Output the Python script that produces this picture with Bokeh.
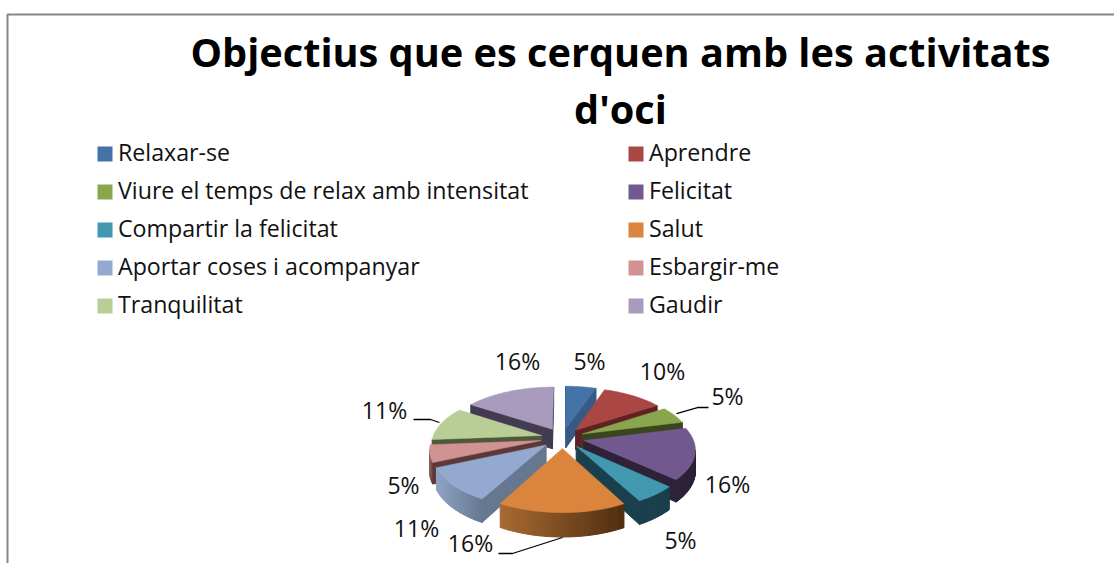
import math
from bokeh.plotting import figure
from bokeh.embed import file_html
from bokeh.resources import INLINE
from bokeh.core.properties import value

title_lines = ["Objectius que es cerquen amb les activitats", "d'oci"]
categories = ["Relaxar-se", "Aprendre", "Viure el temps de relax amb intensitat", "Felicitat",
              "Compartir la felicitat", "Salut", "Aportar coses i acompanyar", "Esbargir-me",
              "Tranquilitat", "Gaudir"]
# printed data labels
percent = [5, 10, 5, 16, 5, 16, 11, 5, 11, 16]
# slice shares
share = [5.3, 10.5, 5.3, 15.8, 5.3, 15.8, 10.5, 5.3, 10.5, 15.8]

face = ["#4572A7", "#AA4643", "#89A54E", "#71588F", "#4198AF", "#DB843D", "#93A9CF", "#D19392", "#B9CD96", "#A99BBD"]
side = ["#355A85", "#5E2222", "#3A4520", "#2D2238", "#1A3F4D", "#5A3412", "#66788F", "#5C3838", "#4F583A", "#433C50"]
rim_a = ["#5E82AE", "#6E2A2A", "#3A4520", "#2D2238", "#1A3F4D", "#A86A32", "#8FA3C3", "#8A6060", "#4F583A", "#433C50"]
rim_b = ["#355A85", "#5E2222", "#3A4520", "#2D2238", "#1A3F4D", "#4F2E10", "#66788F", "#5C3838", "#4F583A", "#433C50"]
label_xy = [(589, 360.5), (662, 370.5), (727, 395.5), (727, 483.5), (680, 539.5), (470, 542.5), (416, 527.5), (403, 484.5), (384, 409.5), (517, 360.5)]
leaders = [([676, 697, 708], [413, 407, 407]), ([413, 430, 439], [419, 419, 422]), ([562, 512, 498], [537, 553, 553])]

FONT = value("Open Sans")
CX, CY, RX, RY, K, E, DEPTH = 562, 437.5, 109, 51, 0.15, 0.2, 20

p = figure(width=1114, height=563, x_range=(0, 1114), y_range=(563, 0),
           toolbar_location=None, output_backend="svg", min_border=0)
p.axis.visible = False
p.grid.visible = False
p.outline_line_color = None
p.background_fill_color = "white"

# chart frame
p.line([7, 7, 1114], [563, 14, 14], line_color="#868686", line_width=2)

# title
for i, t in enumerate(title_lines):
    p.text([620], [51 + 57 * i], text=[t], text_font=FONT, text_font_style="bold", text_font_size="39.7px",
           text_align="center", text_baseline="middle", text_color="black")

# legend
for i, c in enumerate(categories):
    col, row = i % 2, i // 2
    sx = 104.5 + 531 * col
    sy = 153.5 + 38 * row
    p.rect([sx], [sy], 15, 15, fill_color=face[i], line_color=None)
    p.text([sx + 13], [sy - 2], text=[c], text_font=FONT, text_font_size="23.2px",
           text_align="left", text_baseline="middle", text_color="#111111")


def project(u, v):
    s = 1 / (1 - K * v)
    return CX + RX * u * s, CY + RY * v * s, DEPTH * s


def mix(a, b, t):
    ca = [int(a[i:i + 2], 16) for i in (1, 3, 5)]
    cb = [int(b[i:i + 2], 16) for i in (1, 3, 5)]
    return "#%02x%02x%02x" % tuple(round(x + (y - x) * t) for x, y in zip(ca, cb))


total = sum(share)
slices = []
acc = 0
for i, val in enumerate(share):
    a0 = acc / total * 2 * math.pi
    acc += val
    a1 = acc / total * 2 * math.pi
    mid = (a0 + a1) / 2
    eu, ev = E * math.sin(mid), -E * math.cos(mid)
    n = max(6, int(val * 4))
    arc = [project(eu + math.sin(a0 + (a1 - a0) * j / n), ev - math.cos(a0 + (a1 - a0) * j / n)) for j in range(n + 1)]
    slices.append((ev, i, project(eu, ev), arc))

for ev, i, apex, arc in sorted(slices):
    poly = [apex] + arc
    xs_all = [q[0] for q in arc]
    lo, hi = min(xs_all), max(xs_all)
    for j in range(len(poly)):
        a, b = poly[j], poly[(j + 1) % len(poly)]
        if b[0] < a[0]:
            radial = j == 0 or j == len(poly) - 1
            t = ((a[0] + b[0]) / 2 - lo) / max(hi - lo, 1)
            color = side[i] if radial else mix(rim_a[i], rim_b[i], t)
            p.patch([a[0], b[0], b[0], a[0]], [a[1], b[1], b[1] + b[2], a[1] + a[2]],
                    fill_color=color, line_color=color, line_width=1)
    p.patch([q[0] for q in poly], [q[1] for q in poly], fill_color=face[i], line_color=face[i], line_width=0.5)

# leader lines
for lx, ly in leaders:
    p.line(lx, ly, line_color="black", line_width=1.3)

# data labels
for (x, y), val in zip(label_xy, percent):
    p.text([x], [y], text=[f"{val}%"], text_font=FONT, text_font_size="23px",
           text_align="center", text_baseline="middle", text_color="#111111")

open("out.html", "w").write(file_html(p, INLINE))
